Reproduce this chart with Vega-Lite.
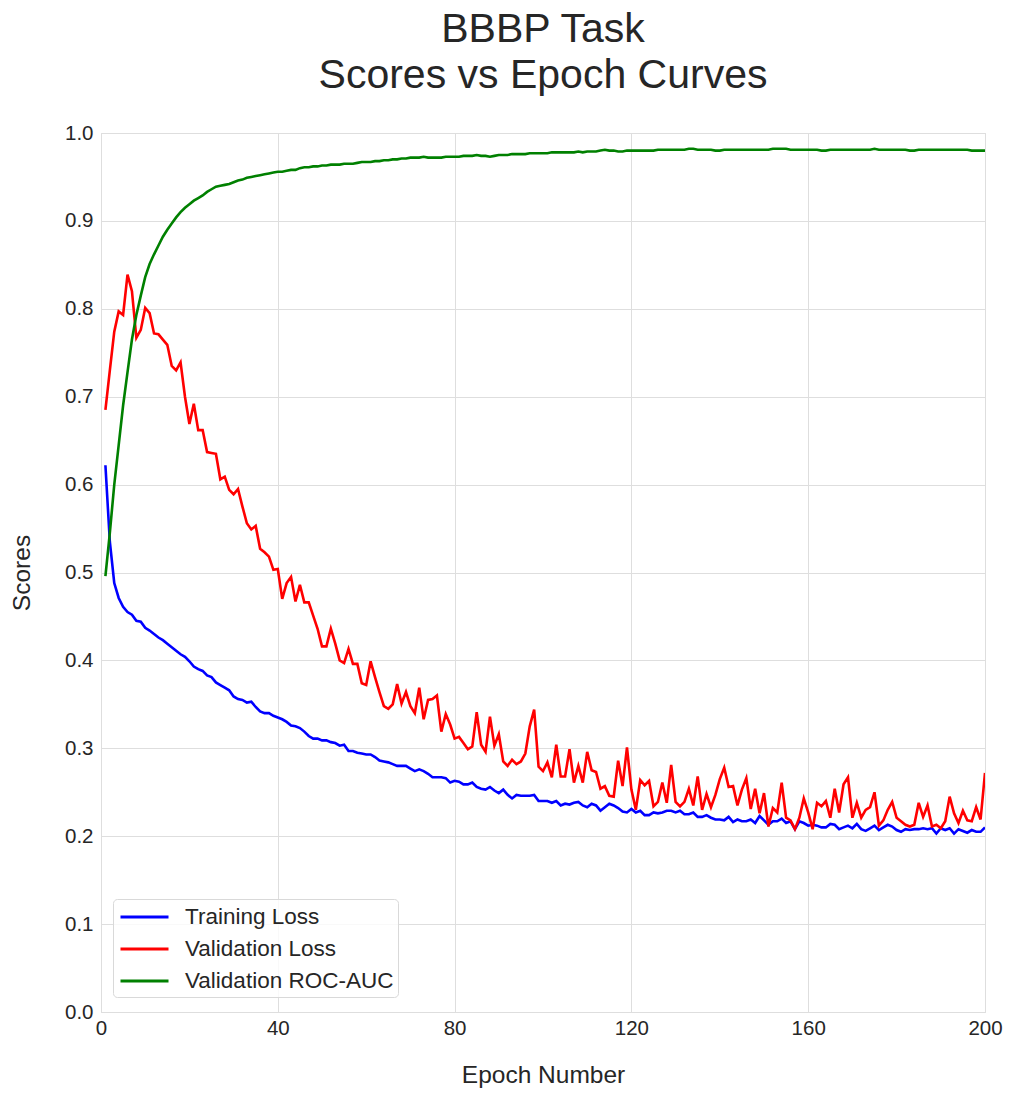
{
  "$schema": "https://vega.github.io/schema/vega-lite/v6.json",
  "width": 884,
  "height": 879,
  "autosize": {"type": "none"},
  "padding": {"left": 101, "top": 133, "right": 29, "bottom": 84},
  "background": "white",
  "title": {
    "text": ["BBBP Task", "Scores vs Epoch Curves"],
    "font": "Liberation Sans",
    "fontSize": 41,
    "fontWeight": "normal",
    "color": "#262626",
    "lineHeight": 46,
    "anchor": "middle",
    "offset": 26
  },
  "config": {
    "font": "Liberation Sans",
    "view": {"stroke": "#d6d6d6", "strokeWidth": 1},
    "axis": {
      "grid": true,
      "gridColor": "#dedede",
      "gridWidth": 1,
      "domain": false,
      "ticks": false,
      "labelFlush": false,
      "labelFont": "Liberation Sans",
      "labelFontSize": 20.5,
      "labelColor": "#262626",
      "titleFont": "Liberation Sans",
      "titleFontSize": 24.5,
      "titleFontWeight": "normal",
      "titleColor": "#262626"
    }
  },
  "data": {
    "values": [
      {"epoch":1,"train":0.622,"val":0.685,"auc":0.496},
      {"epoch":2,"train":0.535,"val":0.730,"auc":0.545},
      {"epoch":3,"train":0.488,"val":0.774,"auc":0.600},
      {"epoch":4,"train":0.471,"val":0.797,"auc":0.645},
      {"epoch":5,"train":0.461,"val":0.793,"auc":0.690},
      {"epoch":6,"train":0.455,"val":0.839,"auc":0.728},
      {"epoch":7,"train":0.452,"val":0.820,"auc":0.765},
      {"epoch":8,"train":0.445,"val":0.767,"auc":0.793},
      {"epoch":9,"train":0.444,"val":0.776,"auc":0.815},
      {"epoch":10,"train":0.437,"val":0.801,"auc":0.836},
      {"epoch":11,"train":0.434,"val":0.795,"auc":0.851},
      {"epoch":12,"train":0.430,"val":0.772,"auc":0.862},
      {"epoch":13,"train":0.426,"val":0.771,"auc":0.872},
      {"epoch":14,"train":0.423,"val":0.765,"auc":0.882},
      {"epoch":15,"train":0.419,"val":0.759,"auc":0.890},
      {"epoch":16,"train":0.415,"val":0.735,"auc":0.897},
      {"epoch":17,"train":0.411,"val":0.730,"auc":0.904},
      {"epoch":18,"train":0.407,"val":0.739,"auc":0.910},
      {"epoch":19,"train":0.404,"val":0.700,"auc":0.915},
      {"epoch":20,"train":0.399,"val":0.669,"auc":0.919},
      {"epoch":21,"train":0.393,"val":0.692,"auc":0.923},
      {"epoch":22,"train":0.390,"val":0.662,"auc":0.926},
      {"epoch":23,"train":0.388,"val":0.662,"auc":0.929},
      {"epoch":24,"train":0.383,"val":0.637,"auc":0.933},
      {"epoch":25,"train":0.381,"val":0.636,"auc":0.936},
      {"epoch":26,"train":0.375,"val":0.635,"auc":0.939},
      {"epoch":27,"train":0.372,"val":0.606,"auc":0.940},
      {"epoch":28,"train":0.369,"val":0.609,"auc":0.941},
      {"epoch":29,"train":0.366,"val":0.594,"auc":0.942},
      {"epoch":30,"train":0.359,"val":0.589,"auc":0.944},
      {"epoch":31,"train":0.356,"val":0.595,"auc":0.946},
      {"epoch":32,"train":0.355,"val":0.575,"auc":0.947},
      {"epoch":33,"train":0.352,"val":0.556,"auc":0.949},
      {"epoch":34,"train":0.353,"val":0.549,"auc":0.950},
      {"epoch":35,"train":0.347,"val":0.553,"auc":0.951},
      {"epoch":36,"train":0.342,"val":0.527,"auc":0.952},
      {"epoch":37,"train":0.340,"val":0.523,"auc":0.953},
      {"epoch":38,"train":0.340,"val":0.518,"auc":0.954},
      {"epoch":39,"train":0.337,"val":0.503,"auc":0.955},
      {"epoch":40,"train":0.335,"val":0.504,"auc":0.956},
      {"epoch":41,"train":0.333,"val":0.470,"auc":0.956},
      {"epoch":42,"train":0.330,"val":0.488,"auc":0.957},
      {"epoch":43,"train":0.326,"val":0.495,"auc":0.958},
      {"epoch":44,"train":0.325,"val":0.467,"auc":0.958},
      {"epoch":45,"train":0.323,"val":0.486,"auc":0.960},
      {"epoch":46,"train":0.319,"val":0.466,"auc":0.961},
      {"epoch":47,"train":0.314,"val":0.466,"auc":0.961},
      {"epoch":48,"train":0.311,"val":0.451,"auc":0.962},
      {"epoch":49,"train":0.311,"val":0.436,"auc":0.962},
      {"epoch":50,"train":0.309,"val":0.416,"auc":0.963},
      {"epoch":51,"train":0.309,"val":0.416,"auc":0.963},
      {"epoch":52,"train":0.307,"val":0.436,"auc":0.964},
      {"epoch":53,"train":0.306,"val":0.419,"auc":0.964},
      {"epoch":54,"train":0.303,"val":0.400,"auc":0.964},
      {"epoch":55,"train":0.304,"val":0.397,"auc":0.965},
      {"epoch":56,"train":0.297,"val":0.413,"auc":0.965},
      {"epoch":57,"train":0.297,"val":0.396,"auc":0.965},
      {"epoch":58,"train":0.295,"val":0.396,"auc":0.966},
      {"epoch":59,"train":0.294,"val":0.374,"auc":0.967},
      {"epoch":60,"train":0.293,"val":0.372,"auc":0.967},
      {"epoch":61,"train":0.293,"val":0.399,"auc":0.967},
      {"epoch":62,"train":0.290,"val":0.381,"auc":0.968},
      {"epoch":63,"train":0.286,"val":0.364,"auc":0.968},
      {"epoch":64,"train":0.285,"val":0.348,"auc":0.969},
      {"epoch":65,"train":0.284,"val":0.345,"auc":0.969},
      {"epoch":66,"train":0.282,"val":0.350,"auc":0.970},
      {"epoch":67,"train":0.280,"val":0.373,"auc":0.970},
      {"epoch":68,"train":0.280,"val":0.351,"auc":0.971},
      {"epoch":69,"train":0.280,"val":0.364,"auc":0.971},
      {"epoch":70,"train":0.277,"val":0.348,"auc":0.972},
      {"epoch":71,"train":0.274,"val":0.340,"auc":0.972},
      {"epoch":72,"train":0.276,"val":0.369,"auc":0.972},
      {"epoch":73,"train":0.274,"val":0.333,"auc":0.973},
      {"epoch":74,"train":0.271,"val":0.355,"auc":0.972},
      {"epoch":75,"train":0.267,"val":0.356,"auc":0.972},
      {"epoch":76,"train":0.267,"val":0.360,"auc":0.972},
      {"epoch":77,"train":0.267,"val":0.319,"auc":0.972},
      {"epoch":78,"train":0.266,"val":0.339,"auc":0.973},
      {"epoch":79,"train":0.261,"val":0.327,"auc":0.973},
      {"epoch":80,"train":0.263,"val":0.311,"auc":0.973},
      {"epoch":81,"train":0.262,"val":0.313,"auc":0.973},
      {"epoch":82,"train":0.259,"val":0.306,"auc":0.974},
      {"epoch":83,"train":0.259,"val":0.299,"auc":0.974},
      {"epoch":84,"train":0.261,"val":0.302,"auc":0.974},
      {"epoch":85,"train":0.256,"val":0.341,"auc":0.975},
      {"epoch":86,"train":0.254,"val":0.304,"auc":0.974},
      {"epoch":87,"train":0.253,"val":0.296,"auc":0.974},
      {"epoch":88,"train":0.256,"val":0.336,"auc":0.973},
      {"epoch":89,"train":0.252,"val":0.303,"auc":0.974},
      {"epoch":90,"train":0.249,"val":0.316,"auc":0.975},
      {"epoch":91,"train":0.253,"val":0.285,"auc":0.975},
      {"epoch":92,"train":0.247,"val":0.280,"auc":0.975},
      {"epoch":93,"train":0.243,"val":0.287,"auc":0.976},
      {"epoch":94,"train":0.247,"val":0.282,"auc":0.976},
      {"epoch":95,"train":0.246,"val":0.285,"auc":0.976},
      {"epoch":96,"train":0.246,"val":0.294,"auc":0.976},
      {"epoch":97,"train":0.246,"val":0.325,"auc":0.977},
      {"epoch":98,"train":0.247,"val":0.344,"auc":0.977},
      {"epoch":99,"train":0.240,"val":0.279,"auc":0.977},
      {"epoch":100,"train":0.240,"val":0.274,"auc":0.977},
      {"epoch":101,"train":0.240,"val":0.284,"auc":0.977},
      {"epoch":102,"train":0.238,"val":0.267,"auc":0.978},
      {"epoch":103,"train":0.240,"val":0.304,"auc":0.978},
      {"epoch":104,"train":0.235,"val":0.268,"auc":0.978},
      {"epoch":105,"train":0.237,"val":0.268,"auc":0.978},
      {"epoch":106,"train":0.236,"val":0.299,"auc":0.978},
      {"epoch":107,"train":0.238,"val":0.261,"auc":0.978},
      {"epoch":108,"train":0.239,"val":0.280,"auc":0.979},
      {"epoch":109,"train":0.235,"val":0.261,"auc":0.978},
      {"epoch":110,"train":0.233,"val":0.296,"auc":0.979},
      {"epoch":111,"train":0.237,"val":0.275,"auc":0.979},
      {"epoch":112,"train":0.235,"val":0.273,"auc":0.979},
      {"epoch":113,"train":0.229,"val":0.254,"auc":0.980},
      {"epoch":114,"train":0.233,"val":0.257,"auc":0.981},
      {"epoch":115,"train":0.237,"val":0.246,"auc":0.980},
      {"epoch":116,"train":0.235,"val":0.245,"auc":0.980},
      {"epoch":117,"train":0.232,"val":0.286,"auc":0.979},
      {"epoch":118,"train":0.228,"val":0.257,"auc":0.979},
      {"epoch":119,"train":0.227,"val":0.301,"auc":0.980},
      {"epoch":120,"train":0.231,"val":0.253,"auc":0.980},
      {"epoch":121,"train":0.227,"val":0.230,"auc":0.980},
      {"epoch":122,"train":0.229,"val":0.264,"auc":0.980},
      {"epoch":123,"train":0.224,"val":0.258,"auc":0.980},
      {"epoch":124,"train":0.224,"val":0.263,"auc":0.980},
      {"epoch":125,"train":0.227,"val":0.234,"auc":0.980},
      {"epoch":126,"train":0.226,"val":0.239,"auc":0.981},
      {"epoch":127,"train":0.227,"val":0.261,"auc":0.981},
      {"epoch":128,"train":0.229,"val":0.238,"auc":0.981},
      {"epoch":129,"train":0.229,"val":0.281,"auc":0.981},
      {"epoch":130,"train":0.227,"val":0.239,"auc":0.981},
      {"epoch":131,"train":0.229,"val":0.234,"auc":0.981},
      {"epoch":132,"train":0.225,"val":0.239,"auc":0.981},
      {"epoch":133,"train":0.225,"val":0.254,"auc":0.982},
      {"epoch":134,"train":0.227,"val":0.235,"auc":0.982},
      {"epoch":135,"train":0.222,"val":0.268,"auc":0.981},
      {"epoch":136,"train":0.222,"val":0.230,"auc":0.981},
      {"epoch":137,"train":0.224,"val":0.248,"auc":0.981},
      {"epoch":138,"train":0.221,"val":0.233,"auc":0.981},
      {"epoch":139,"train":0.219,"val":0.247,"auc":0.980},
      {"epoch":140,"train":0.219,"val":0.265,"auc":0.980},
      {"epoch":141,"train":0.218,"val":0.278,"auc":0.981},
      {"epoch":142,"train":0.222,"val":0.256,"auc":0.981},
      {"epoch":143,"train":0.216,"val":0.257,"auc":0.981},
      {"epoch":144,"train":0.219,"val":0.235,"auc":0.981},
      {"epoch":145,"train":0.217,"val":0.253,"auc":0.981},
      {"epoch":146,"train":0.217,"val":0.266,"auc":0.981},
      {"epoch":147,"train":0.219,"val":0.231,"auc":0.981},
      {"epoch":148,"train":0.215,"val":0.254,"auc":0.981},
      {"epoch":149,"train":0.223,"val":0.226,"auc":0.981},
      {"epoch":150,"train":0.218,"val":0.249,"auc":0.981},
      {"epoch":151,"train":0.213,"val":0.211,"auc":0.981},
      {"epoch":152,"train":0.217,"val":0.232,"auc":0.982},
      {"epoch":153,"train":0.217,"val":0.227,"auc":0.982},
      {"epoch":154,"train":0.220,"val":0.261,"auc":0.982},
      {"epoch":155,"train":0.215,"val":0.221,"auc":0.982},
      {"epoch":156,"train":0.217,"val":0.218,"auc":0.981},
      {"epoch":157,"train":0.208,"val":0.208,"auc":0.981},
      {"epoch":158,"train":0.217,"val":0.221,"auc":0.981},
      {"epoch":159,"train":0.215,"val":0.243,"auc":0.981},
      {"epoch":160,"train":0.212,"val":0.227,"auc":0.981},
      {"epoch":161,"train":0.213,"val":0.208,"auc":0.981},
      {"epoch":162,"train":0.212,"val":0.238,"auc":0.981},
      {"epoch":163,"train":0.210,"val":0.234,"auc":0.980},
      {"epoch":164,"train":0.210,"val":0.240,"auc":0.980},
      {"epoch":165,"train":0.214,"val":0.221,"auc":0.981},
      {"epoch":166,"train":0.213,"val":0.254,"auc":0.981},
      {"epoch":167,"train":0.208,"val":0.227,"auc":0.981},
      {"epoch":168,"train":0.210,"val":0.259,"auc":0.981},
      {"epoch":169,"train":0.212,"val":0.267,"auc":0.981},
      {"epoch":170,"train":0.209,"val":0.221,"auc":0.981},
      {"epoch":171,"train":0.214,"val":0.238,"auc":0.981},
      {"epoch":172,"train":0.208,"val":0.221,"auc":0.981},
      {"epoch":173,"train":0.206,"val":0.230,"auc":0.981},
      {"epoch":174,"train":0.209,"val":0.233,"auc":0.981},
      {"epoch":175,"train":0.212,"val":0.250,"auc":0.982},
      {"epoch":176,"train":0.207,"val":0.212,"auc":0.981},
      {"epoch":177,"train":0.210,"val":0.218,"auc":0.981},
      {"epoch":178,"train":0.213,"val":0.230,"auc":0.981},
      {"epoch":179,"train":0.211,"val":0.239,"auc":0.981},
      {"epoch":180,"train":0.207,"val":0.221,"auc":0.981},
      {"epoch":181,"train":0.205,"val":0.217,"auc":0.981},
      {"epoch":182,"train":0.208,"val":0.213,"auc":0.981},
      {"epoch":183,"train":0.207,"val":0.211,"auc":0.980},
      {"epoch":184,"train":0.208,"val":0.213,"auc":0.980},
      {"epoch":185,"train":0.208,"val":0.238,"auc":0.981},
      {"epoch":186,"train":0.209,"val":0.222,"auc":0.981},
      {"epoch":187,"train":0.208,"val":0.235,"auc":0.981},
      {"epoch":188,"train":0.209,"val":0.211,"auc":0.981},
      {"epoch":189,"train":0.203,"val":0.213,"auc":0.981},
      {"epoch":190,"train":0.209,"val":0.209,"auc":0.981},
      {"epoch":191,"train":0.207,"val":0.217,"auc":0.981},
      {"epoch":192,"train":0.209,"val":0.245,"auc":0.981},
      {"epoch":193,"train":0.203,"val":0.226,"auc":0.981},
      {"epoch":194,"train":0.208,"val":0.215,"auc":0.981},
      {"epoch":195,"train":0.206,"val":0.229,"auc":0.981},
      {"epoch":196,"train":0.204,"val":0.218,"auc":0.981},
      {"epoch":197,"train":0.207,"val":0.217,"auc":0.980},
      {"epoch":198,"train":0.205,"val":0.233,"auc":0.980},
      {"epoch":199,"train":0.205,"val":0.219,"auc":0.980},
      {"epoch":200,"train":0.210,"val":0.272,"auc":0.980}
    ]
  },
  "transform": [
    {"fold": ["train", "val", "auc"], "as": ["series", "score"]}
  ],
  "mark": {"type": "line", "strokeWidth": 2.6, "interpolate": "linear", "clip": true},
  "encoding": {
    "x": {
      "field": "epoch",
      "type": "quantitative",
      "scale": {"domain": [0, 200], "nice": false, "zero": false},
      "axis": {"values": [0, 40, 80, 120, 160, 200], "title": "Epoch Number", "labelPadding": 6, "titlePadding": 25}
    },
    "y": {
      "field": "score",
      "type": "quantitative",
      "scale": {"domain": [0, 1], "nice": false},
      "axis": {"values": [0, 0.1, 0.2, 0.3, 0.4, 0.5, 0.6, 0.7, 0.8, 0.9, 1.0], "format": ".1f", "title": "Scores", "labelPadding": 8, "titlePadding": 30}
    },
    "color": {
      "field": "series",
      "type": "nominal",
      "sort": ["train", "val", "auc"],
      "scale": {"domain": ["train", "val", "auc"], "range": ["#0000ff", "#ff0000", "#008000"]},
      "legend": {
        "title": null,
        "orient": "none",
        "legendX": 12,
        "legendY": 766,
        "labelExpr": "datum.value == 'train' ? 'Training Loss' : datum.value == 'val' ? 'Validation Loss' : 'Validation ROC-AUC'",
        "labelFont": "Liberation Sans",
        "labelFontSize": 22.5,
        "labelColor": "#262626",
        "labelLimit": 400,
        "labelOffset": 27,
        "symbolType": "M-2,0H2",
        "symbolSize": 576,
        "symbolStrokeWidth": 3,
        "symbolOffset": 13.5,
        "rowPadding": 7,
        "padding": 4.5,
        "strokeColor": "#d9d9d9",
        "fillColor": "rgba(255,255,255,0.8)",
        "cornerRadius": 4
      }
    },
    "order": {"field": "epoch", "type": "quantitative"}
  }
}
